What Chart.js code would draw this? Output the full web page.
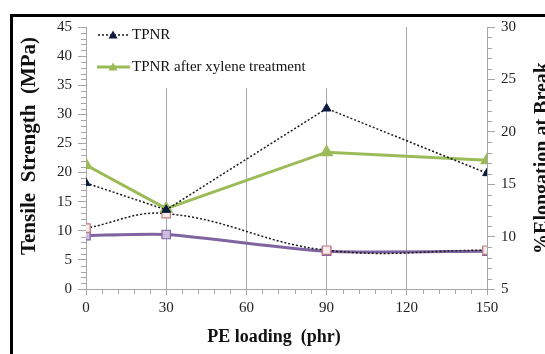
<!DOCTYPE html>
<html>
<head>
<meta charset="utf-8">
<script src="https://cdn.jsdelivr.net/npm/chart.js@4/dist/chart.umd.min.js"></script>
<style>
  body { margin: 0; background: #fff; }
  canvas { display: block; }
</style>
</head>
<body>
<canvas id="grafico" width="545" height="354"></canvas>
<script>
// datos
const cargaPE = [0, 30, 90, 150];
const tsTPNR = [18.2, 13.6, 31.0, 19.9];
const tsXileno = [21.3, 13.8, 23.5, 22.1];
const ebTPNR = [10.8, 12.2, 8.7, 8.7];
const ebXileno = [10.1, 10.2, 8.6, 8.6];

const etiquetasLeyenda = ['TPNR', 'TPNR after xylene treatment'];
const tituloX = 'PE loading  (phr)';
const tituloY = 'Tensile  Strength  (MPa)';
const tituloY2 = '%Elongation at Break';

const fuente = '"Liberation Serif", "Times New Roman", serif';
const gris = '#a6a6a6';

function puntos(valores) {
  return cargaPE.map((x, i) => ({ x: x, y: valores[i] }));
}

const marco = {
  id: 'marco',
  beforeDraw(chart) {
    const ctx = chart.ctx;
    ctx.save();
    ctx.fillStyle = '#fff';
    ctx.fillRect(0, 0, chart.width, chart.height);
    ctx.strokeStyle = '#000';
    ctx.lineWidth = 3;
    ctx.strokeRect(11.5, 15.5, 700, 500);
    ctx.restore();
  }
};

const leyenda = {
  id: 'leyenda',
  beforeDatasetsDraw(chart) {
    const ctx = chart.ctx;
    const a = chart.chartArea;
    ctx.save();
    ctx.fillStyle = '#fff';
    ctx.fillRect(a.left + 1, a.top - 2, 280, 63);

    // item 1: punteado negro con triangulo
    ctx.strokeStyle = '#1a1a1a';
    ctx.lineWidth = 1.5;
    ctx.setLineDash([2, 2]);
    ctx.beginPath();
    ctx.moveTo(98, 35);
    ctx.lineTo(130, 35);
    ctx.stroke();
    ctx.setLineDash([]);
    triangulo(ctx, 113, 35, 4.5, '#0d1a40');

    // item 2: verde
    ctx.strokeStyle = '#9bbb59';
    ctx.lineWidth = 3;
    ctx.beginPath();
    ctx.moveTo(97, 67);
    ctx.lineTo(130, 67);
    ctx.stroke();
    triangulo(ctx, 113, 67, 4.5, '#9bbb59');

    ctx.fillStyle = '#111';
    ctx.font = '15px ' + fuente;
    ctx.textBaseline = 'middle';
    ctx.fillText(etiquetasLeyenda[0], 132, 35);
    ctx.fillText(etiquetasLeyenda[1], 132, 67);
    ctx.restore();
  }
};

function triangulo(ctx, x, y, r, color) {
  ctx.fillStyle = color;
  ctx.beginPath();
  ctx.moveTo(x, y - r);
  ctx.lineTo(x + r, y + r * 0.8);
  ctx.lineTo(x - r, y + r * 0.8);
  ctx.closePath();
  ctx.fill();
}

const extras = {
  id: 'extras',
  afterDraw(chart) {
    const ctx = chart.ctx;
    const sx = chart.scales.x;
    const sy = chart.scales.y;
    const sy2 = chart.scales.y2;
    ctx.save();
    ctx.strokeStyle = gris;
    ctx.lineWidth = 1;
    ctx.beginPath();
    // marcas menores
    for (let v = 0; v <= 45; v++) {
      if (v % 5 === 0) continue;
      const py = Math.round(sy.getPixelForValue(v)) + 0.5;
      ctx.moveTo(sx.left - 5, py);
      ctx.lineTo(sx.left, py);
    }
    for (let v = 5; v <= 30; v++) {
      if (v % 5 === 0) continue;
      const py = Math.round(sy2.getPixelForValue(v)) + 0.5;
      ctx.moveTo(sx.right, py);
      ctx.lineTo(sx.right + 5, py);
    }
    for (let v = 0; v <= 150; v += 6) {
      if (v % 30 === 0) continue;
      const px = Math.round(sx.getPixelForValue(v)) + 0.5;
      ctx.moveTo(px, sy.bottom);
      ctx.lineTo(px, sy.bottom + 5);
    }
    ctx.stroke();

    // titulos
    ctx.fillStyle = '#111';
    ctx.font = 'bold 21px ' + fuente;
    ctx.textAlign = 'center';
    ctx.textBaseline = 'alphabetic';
    ctx.save();
    ctx.translate(35, 146);
    ctx.rotate(-Math.PI / 2);
    ctx.fillText(tituloY, 0, 0);
    ctx.restore();

    ctx.font = 'bold 20px ' + fuente;
    ctx.save();
    ctx.translate(548, 158);
    ctx.rotate(-Math.PI / 2);
    ctx.fillText(tituloY2, 0, 0);
    ctx.restore();

    ctx.font = 'bold 18px ' + fuente;
    ctx.fillText(tituloX, 274, 342);
    ctx.restore();
  }
};

const ctx = document.getElementById('grafico').getContext('2d');
const grafTS = new Chart(ctx, {
  type: 'line',
  data: {
    datasets: [
      {
        label: etiquetasLeyenda[0],
        data: puntos(tsTPNR),
        yAxisID: 'y',
        borderColor: '#1a1a1a',
        borderWidth: 1.5,
        borderDash: [2, 2],
        pointStyle: 'triangle',
        pointRadius: 5,
        pointBackgroundColor: '#0d1a40',
        pointBorderColor: '#0d1a40',
        pointBorderWidth: 1,
        tension: 0
      },
      {
        label: etiquetasLeyenda[1],
        data: puntos(tsXileno),
        yAxisID: 'y',
        borderColor: '#9bbb59',
        borderWidth: 3,
        pointStyle: 'triangle',
        pointRadius: 5,
        pointBackgroundColor: '#9bbb59',
        pointBorderColor: '#9bbb59',
        tension: 0
      },
      {
        label: 'EB TPNR',
        data: puntos(ebTPNR),
        yAxisID: 'y2',
        borderColor: '#1a1a1a',
        borderWidth: 1.5,
        borderDash: [2, 2],
        pointStyle: 'rect',
        pointRadius: 6,
        pointBackgroundColor: '#f7eaea',
        pointBorderColor: '#c27a7c',
        pointBorderWidth: 1.2,
        tension: 0.4
      },
      {
        label: 'EB xylene',
        data: puntos(ebXileno),
        yAxisID: 'y2',
        borderColor: '#8064a2',
        borderWidth: 3,
        pointStyle: 'rect',
        pointRadius: 6,
        pointBackgroundColor: '#cbbce0',
        pointBorderColor: '#8064a2',
        pointBorderWidth: 1.2,
        tension: 0.2
      }
    ]
  },
  options: {
    responsive: false,
    animation: false,
    layout: { padding: { left: 40, top: 27, right: 20, bottom: 0 } },
    plugins: {
      legend: { display: false },
      tooltip: { enabled: false }
    },
    scales: {
      x: {
        type: 'linear',
        min: 0,
        max: 150,
        afterFit: s => { s.height = 65; },
        ticks: { stepSize: 30, padding: 4, color: '#222', font: { family: fuente, size: 15 } },
        grid: { color: gris, tickLength: 6 },
        border: { color: gris }
      },
      y: {
        position: 'left',
        min: 0,
        max: 45,
        afterFit: s => { s.width = 46; },
        ticks: { stepSize: 5, padding: 6, color: '#222', font: { family: fuente, size: 15 } },
        grid: { drawOnChartArea: false, color: gris, tickLength: 8 },
        border: { color: gris }
      },
      y2: {
        position: 'right',
        min: 5,
        max: 30,
        afterFit: s => { s.width = 38; },
        ticks: { stepSize: 5, padding: 6, color: '#222', font: { family: fuente, size: 15 } },
        grid: { drawOnChartArea: false, color: gris, tickLength: 8 },
        border: { color: gris }
      }
    }
  },
  plugins: [marco, leyenda, extras]
});
</script>
</body>
</html>
